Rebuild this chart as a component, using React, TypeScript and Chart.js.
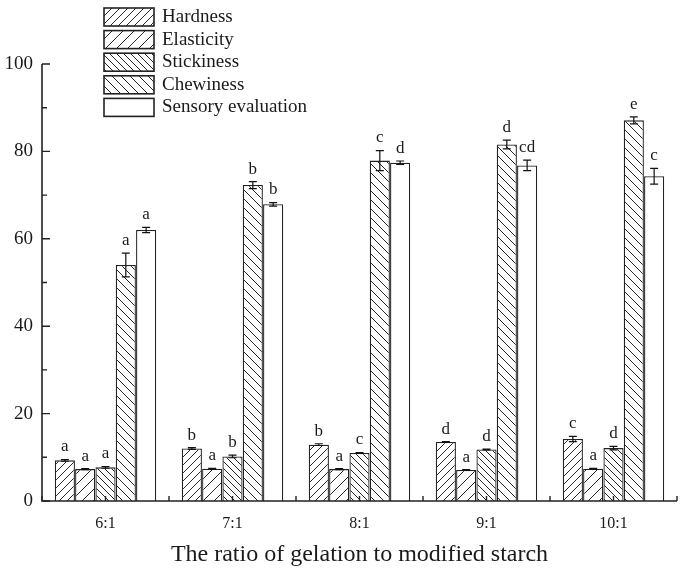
import React, { useEffect, useRef } from "react";
import { Chart, registerables } from "chart.js";

Chart.register(...registerables);

const categories = ["6:1", "7:1", "8:1", "9:1", "10:1"];
const seriesNames = ["Hardness", "Elasticity", "Stickiness", "Chewiness", "Sensory evaluation"];
const hardness = [9.3, 12.0, 12.9, 13.5, 14.2];
const elasticity = [7.3, 7.4, 7.3, 7.1, 7.4];
const stickiness = [7.7, 10.2, 11.0, 11.8, 12.1];
const chewiness = [54.0, 72.3, 77.9, 81.6, 87.1];
const sensory = [62.0, 67.9, 77.4, 76.8, 74.3];
const hardnessErr = [0.2, 0.2, 0.2, 0.1, 0.6];
const elasticityErr = [0.1, 0.1, 0.1, 0.1, 0.1];
const stickinessErr = [0.2, 0.3, 0.1, 0.1, 0.4];
const chewinessErr = [2.7, 0.8, 2.3, 1.0, 0.8];
const sensoryErr = [0.6, 0.4, 0.4, 1.2, 1.8];
const hardnessLetters = ["a", "b", "b", "d", "c"];
const elasticityLetters = ["a", "a", "a", "a", "a"];
const stickinessLetters = ["a", "b", "c", "d", "d"];
const chewinessLetters = ["a", "b", "c", "d", "e"];
const sensoryLetters = ["a", "b", "d", "cd", "c"];
const yTicks = [0, 20, 40, 60, 80, 100];

const SERIF = "'Liberation Serif', 'DejaVu Serif', serif";

function makeHatch(dir: number, s: number): CanvasPattern | string {
  const c = document.createElement("canvas");
  c.width = s;
  c.height = s;
  const g = c.getContext("2d");
  if (!g) return "#fff";
  g.fillStyle = "#fff";
  g.fillRect(0, 0, s, s);
  g.strokeStyle = "#262626";
  g.lineWidth = 1;
  g.beginPath();
  if (dir > 0) {
    g.moveTo(0, s); g.lineTo(s, 0);
    g.moveTo(-1, 1); g.lineTo(1, -1);
    g.moveTo(s - 1, s + 1); g.lineTo(s + 1, s - 1);
  } else {
    g.moveTo(0, 0); g.lineTo(s, s);
    g.moveTo(-1, s - 1); g.lineTo(1, s + 1);
    g.moveTo(s - 1, -1); g.lineTo(s + 1, 1);
  }
  g.stroke();
  const p = g.createPattern(c, "repeat");
  return p || "#fff";
}

export default function App() {
  const ref = useRef<HTMLCanvasElement | null>(null);
  useEffect(() => {
    document.body.style.margin = "0";
    const canvas = ref.current;
    if (!canvas) return;
    const fills = [makeHatch(1, 8), makeHatch(1, 11), makeHatch(-1, 7), makeHatch(-1, 9), "#ffffff"];
    const values = [hardness, elasticity, stickiness, chewiness, sensory];
    const errs = [hardnessErr, elasticityErr, stickinessErr, chewinessErr, sensoryErr];
    const letters = [hardnessLetters, elasticityLetters, stickinessLetters, chewinessLetters, sensoryLetters];

    const overlay = {
      id: "overlay",
      afterDatasetsDraw(chart: any) {
        const ctx = chart.ctx;
        const y = chart.scales.y;
        const area = chart.chartArea;
        ctx.save();
        values.forEach((vals, di) => {
          const meta = chart.getDatasetMeta(di);
          meta.data.forEach((el: any, i: number) => {
            const v = vals[i];
            const e = errs[di][i];
            const top = y.getPixelForValue(v + e);
            const bot = y.getPixelForValue(v - e);
            ctx.strokeStyle = "#111";
            ctx.lineWidth = 1.2;
            ctx.beginPath();
            ctx.moveTo(el.x, top); ctx.lineTo(el.x, bot);
            ctx.moveTo(el.x - 4, top); ctx.lineTo(el.x + 4, top);
            ctx.moveTo(el.x - 4, bot); ctx.lineTo(el.x + 4, bot);
            ctx.stroke();
            ctx.fillStyle = "#1a1a1a";
            ctx.font = "17px " + SERIF;
            ctx.textAlign = "center";
            ctx.textBaseline = "bottom";
            ctx.fillText(letters[di][i], el.x, top - 4);
          });
        });
        ctx.strokeStyle = "#222";
        ctx.lineWidth = 1.6;
        ctx.beginPath();
        ctx.moveTo(area.left, area.top);
        ctx.lineTo(area.left, area.bottom);
        ctx.lineTo(area.right, area.bottom);
        ctx.stroke();
        ctx.lineWidth = 1.4;
        ctx.beginPath();
        for (let t = 0; t <= 100; t += 10) {
          const py = y.getPixelForValue(t);
          const len = t % 20 === 0 ? 8 : 5;
          ctx.moveTo(area.left, py);
          ctx.lineTo(area.left + len, py);
        }
        const n = categories.length;
        const w = (area.right - area.left) / n;
        for (let k = 0; k <= n * 2; k++) {
          const px = area.left + (k * w) / 2;
          ctx.moveTo(px, area.bottom);
          ctx.lineTo(px, area.bottom - 5);
        }
        ctx.stroke();
        const lx = 104, ly = 8, bw = 50, bh = 18, gap = 22.6;
        seriesNames.forEach((name, i) => {
          const by = ly + i * gap;
          ctx.fillStyle = fills[i] as any;
          ctx.fillRect(lx, by, bw, bh);
          ctx.strokeStyle = "#222";
          ctx.lineWidth = 1.6;
          ctx.strokeRect(lx, by, bw, bh);
          ctx.fillStyle = "#1a1a1a";
          ctx.font = "19px " + SERIF;
          ctx.textAlign = "left";
          ctx.textBaseline = "middle";
          ctx.fillText(name, lx + 58, by + bh / 2);
        });
        ctx.restore();
      },
    };

    const chart = new Chart(canvas, {
      type: "bar",
      data: {
        labels: categories,
        datasets: values.map((vals, i) => ({
          label: seriesNames[i],
          data: vals,
          backgroundColor: fills[i] as any,
          borderColor: "#222",
          borderWidth: 1.3,
          borderSkipped: "bottom",
          categoryPercentage: 0.8,
          barPercentage: 0.99,
        })),
      },
      options: {
        responsive: false,
        animation: false,
        layout: { padding: { top: 64, right: 8, left: 0, bottom: 0 } },
        plugins: { legend: { display: false }, tooltip: { enabled: false } },
        scales: {
          x: {
            grid: { display: false, drawTicks: false },
            border: { display: false },
            ticks: { font: { family: SERIF, size: 16 }, color: "#1a1a1a", padding: 13 },
            title: {
              display: true,
              text: "The ratio of gelation to modified starch",
              font: { family: SERIF, size: 24 },
              color: "#1a1a1a",
              padding: { top: 8 },
            },
            afterFit: (s: any) => { s.height = 72; },
          },
          y: {
            min: 0,
            max: 100,
            afterBuildTicks: (s: any) => { s.ticks = yTicks.map((v) => ({ value: v })); },
            grid: { display: false, drawTicks: false },
            border: { display: false },
            ticks: { font: { family: SERIF, size: 19 }, color: "#1a1a1a", padding: 9 },
            afterFit: (s: any) => { s.width = 42; },
          },
        },
      },
      plugins: [overlay],
    });
    return () => chart.destroy();
  }, []);
  return <canvas ref={ref} width={685} height={573} style={{ display: "block" }} />;
}
